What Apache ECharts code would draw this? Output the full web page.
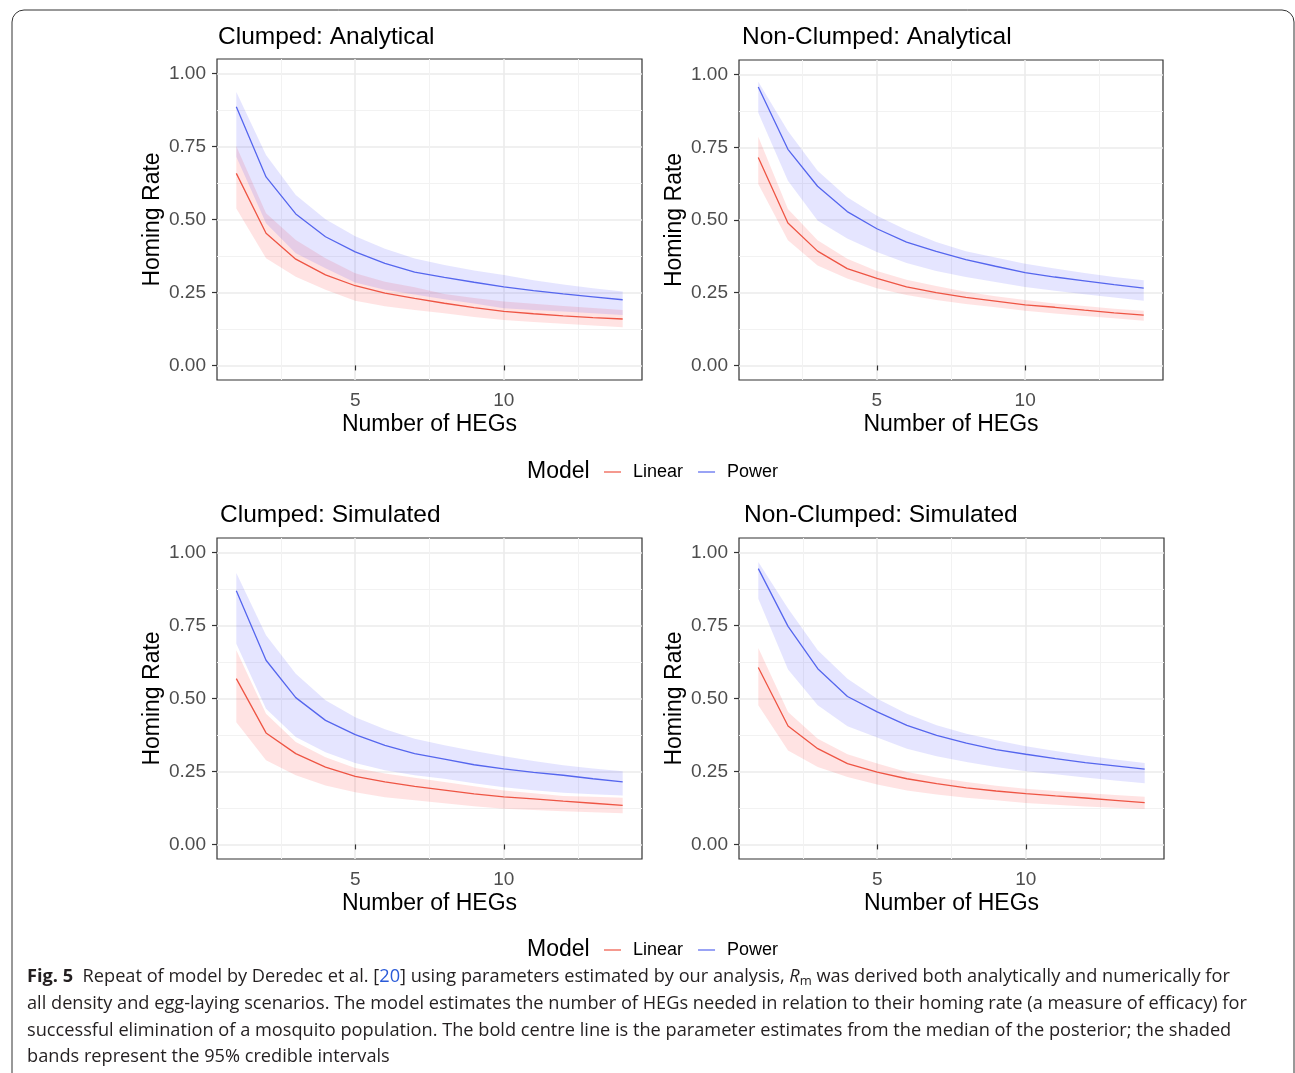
<!DOCTYPE html>
<html>
<head>
<meta charset="utf-8">
<script src="https://cdn.jsdelivr.net/npm/echarts@6/dist/echarts.min.js"></script>
<style>
html, body { margin: 0; padding: 0; background: #fff; }
#main { width: 1295px; height: 1073px; }
</style>
</head>
<body>
<div id="main"></div>
<script>
// number of HEGs (x axis)
var hegs = [1, 2, 3, 4, 5, 6, 7, 8, 9, 10, 11, 12, 13, 14];
var xTicks = [5, 10];
var xMinor = [2.5, 7.5, 12.5];
var yTicks = [0, 0.25, 0.5, 0.75, 1];
var yMinor = [0.125, 0.375, 0.625, 0.875];

// Clumped: Analytical
var caLinMed = [0.658, 0.453, 0.364, 0.310, 0.273, 0.248, 0.230, 0.213, 0.198, 0.185, 0.177, 0.170, 0.164, 0.159];
var caLinHi  = [0.751, 0.521, 0.430, 0.367, 0.316, 0.287, 0.268, 0.245, 0.231, 0.219, 0.211, 0.204, 0.197, 0.190];
var caLinLo  = [0.538, 0.367, 0.304, 0.259, 0.222, 0.203, 0.190, 0.179, 0.166, 0.156, 0.149, 0.143, 0.137, 0.131];
var caPowMed = [0.886, 0.646, 0.519, 0.441, 0.389, 0.350, 0.320, 0.302, 0.285, 0.269, 0.256, 0.245, 0.235, 0.225];
var caPowHi  = [0.937, 0.721, 0.584, 0.501, 0.443, 0.400, 0.366, 0.344, 0.325, 0.310, 0.292, 0.277, 0.264, 0.253];
var caPowLo  = [0.715, 0.487, 0.384, 0.333, 0.284, 0.259, 0.243, 0.227, 0.212, 0.196, 0.190, 0.185, 0.179, 0.173];

// Non-Clumped: Analytical
var naLinMed = [0.715, 0.490, 0.393, 0.333, 0.299, 0.270, 0.250, 0.234, 0.221, 0.208, 0.200, 0.190, 0.181, 0.173];
var naLinHi  = [0.786, 0.538, 0.430, 0.367, 0.325, 0.295, 0.273, 0.253, 0.238, 0.225, 0.213, 0.204, 0.195, 0.188];
var naLinLo  = [0.624, 0.430, 0.344, 0.299, 0.265, 0.242, 0.225, 0.211, 0.200, 0.188, 0.179, 0.170, 0.162, 0.154];
var naPowMed = [0.957, 0.743, 0.616, 0.529, 0.470, 0.424, 0.392, 0.364, 0.341, 0.319, 0.304, 0.291, 0.278, 0.266];
var naPowHi  = [0.975, 0.806, 0.669, 0.578, 0.515, 0.466, 0.424, 0.393, 0.371, 0.350, 0.333, 0.318, 0.304, 0.293];
var naPowLo  = [0.869, 0.635, 0.498, 0.436, 0.390, 0.352, 0.325, 0.304, 0.287, 0.270, 0.257, 0.245, 0.234, 0.222];

// Clumped: Simulated
var csLinMed = [0.568, 0.382, 0.311, 0.265, 0.233, 0.214, 0.199, 0.186, 0.173, 0.163, 0.156, 0.148, 0.141, 0.134];
var csLinHi  = [0.665, 0.448, 0.351, 0.299, 0.262, 0.243, 0.228, 0.214, 0.199, 0.185, 0.175, 0.166, 0.163, 0.160];
var csLinLo  = [0.419, 0.288, 0.237, 0.202, 0.179, 0.162, 0.151, 0.141, 0.131, 0.122, 0.118, 0.114, 0.110, 0.107];
var csPowMed = [0.869, 0.631, 0.503, 0.425, 0.376, 0.339, 0.311, 0.292, 0.273, 0.259, 0.247, 0.237, 0.225, 0.214];
var csPowHi  = [0.930, 0.717, 0.585, 0.494, 0.436, 0.395, 0.362, 0.340, 0.320, 0.302, 0.286, 0.271, 0.260, 0.251];
var csPowLo  = [0.688, 0.465, 0.368, 0.316, 0.279, 0.254, 0.237, 0.225, 0.210, 0.196, 0.186, 0.177, 0.172, 0.168];

// Non-Clumped: Simulated
var nsLinMed = [0.606, 0.406, 0.328, 0.277, 0.248, 0.225, 0.208, 0.194, 0.183, 0.174, 0.166, 0.159, 0.151, 0.143];
var nsLinHi  = [0.673, 0.454, 0.362, 0.309, 0.277, 0.248, 0.229, 0.214, 0.201, 0.191, 0.183, 0.176, 0.169, 0.163];
var nsLinLo  = [0.477, 0.322, 0.265, 0.231, 0.205, 0.185, 0.171, 0.160, 0.151, 0.142, 0.136, 0.130, 0.126, 0.121];
var nsPowMed = [0.945, 0.747, 0.602, 0.507, 0.454, 0.408, 0.374, 0.347, 0.325, 0.309, 0.294, 0.280, 0.269, 0.258];
var nsPowHi  = [0.968, 0.808, 0.665, 0.568, 0.499, 0.448, 0.408, 0.379, 0.357, 0.336, 0.320, 0.305, 0.291, 0.279];
var nsPowLo  = [0.842, 0.599, 0.477, 0.405, 0.366, 0.328, 0.302, 0.282, 0.265, 0.251, 0.240, 0.229, 0.219, 0.210];

var panels = [
    { title: 'Clumped: Analytical',     left: 217, top: 59,  width: 425, height: 321, tx: 213, ty: 20,
      lin: [caLinLo, caLinMed, caLinHi], pow: [caPowLo, caPowMed, caPowHi] },
    { title: 'Non-Clumped: Analytical', left: 739, top: 60,  width: 424, height: 320, tx: 737, ty: 20,
      lin: [naLinLo, naLinMed, naLinHi], pow: [naPowLo, naPowMed, naPowHi] },
    { title: 'Clumped: Simulated',      left: 217, top: 538, width: 425, height: 321, tx: 215, ty: 498,
      lin: [csLinLo, csLinMed, csLinHi], pow: [csPowLo, csPowMed, csPowHi] },
    { title: 'Non-Clumped: Simulated',  left: 739, top: 538, width: 425, height: 321, tx: 739, ty: 498,
      lin: [nsLinLo, nsLinMed, nsLinHi], pow: [nsPowLo, nsPowMed, nsPowHi] }
];

var models = [
    { name: 'Linear', line: '#ee5544', band: 'rgba(255,40,40,0.13)' },
    { name: 'Power',  line: '#5566ee', band: 'rgba(40,40,255,0.12)' }
];

function pairs(xs, ys) {
    return xs.map(function (x, i) { return [x, ys[i]]; });
}

// ribbon between lo and hi, drawn once as one polygon through the axis scales
function ribbon(i, lo, hi, color) {
    return {
        type: 'custom', xAxisIndex: i, yAxisIndex: i, silent: true, z: 1, clip: true,
        data: hegs.map(function (x, j) { return [x, lo[j], hi[j]]; }),
        encode: { x: 0, y: [1, 2] },
        renderItem: function (params, api) {
            if (params.dataIndex !== 0) return null;
            var pts = [], j;
            for (j = 0; j < hegs.length; j++) pts.push(api.coord([hegs[j], hi[j]]));
            for (j = hegs.length - 1; j >= 0; j--) pts.push(api.coord([hegs[j], lo[j]]));
            return { type: 'polygon', shape: { points: pts }, style: { fill: color } };
        }
    };
}

var FONT = 'Liberation Sans';
var grids = [], xAxes = [], yAxes = [], titles = [], bands = [], lines = [];

panels.forEach(function (p, i) {
    grids.push({ left: p.left, top: p.top, width: p.width, height: p.height,
        show: true, borderColor: '#333', borderWidth: 1.2, backgroundColor: 'transparent' });
    titles.push({ text: p.title, left: p.tx, top: p.ty,
        textStyle: { fontFamily: FONT, fontSize: 24.5, fontWeight: 'normal', color: '#000' } });

    // major x axis
    xAxes.push({
        type: 'value', gridIndex: i, min: 0.35, max: 14.65,
        name: 'Number of HEGs', nameLocation: 'middle', nameGap: 33,
        nameTextStyle: { fontFamily: FONT, fontSize: 23, color: '#000' },
        axisLine: { show: false },
        axisTick: { show: true, length: 5, lineStyle: { color: '#333', width: 1.2 }, customValues: xTicks },
        axisLabel: { fontFamily: FONT, fontSize: 19, color: '#4d4d4d', margin: 11, customValues: xTicks },
        splitLine: { show: true, lineStyle: { color: '#ebebeb', width: 1.6 } }
    });
    // major y axis
    yAxes.push({
        type: 'value', gridIndex: i, min: -0.05, max: 1.05,
        name: 'Homing Rate', nameLocation: 'middle', nameGap: 53,
        nameTextStyle: { fontFamily: FONT, fontSize: 23, color: '#000' },
        axisLine: { show: false },
        axisTick: { show: true, length: 5, lineStyle: { color: '#333', width: 1.2 }, customValues: yTicks },
        axisLabel: { fontFamily: FONT, fontSize: 19, color: '#4d4d4d', margin: 11, customValues: yTicks,
            formatter: function (v) { return v.toFixed(2); } },
        splitLine: { show: true, lineStyle: { color: '#ebebeb', width: 1.6 } }
    });

    models.forEach(function (m, k) {
        var b = k === 0 ? p.lin : p.pow;
        bands.push(ribbon(i, b[0], b[2], m.band));
        lines.push({
            name: m.name, type: 'line', xAxisIndex: i, yAxisIndex: i,
            data: pairs(hegs, b[1]), symbol: 'none', color: m.line,
            lineStyle: { color: m.line, width: 1.3 }, z: 3
        });
    });
});

// minor grid lines, drawn by extra axes on the same grids
panels.forEach(function (p, i) {
    xAxes.push({
        type: 'value', gridIndex: i, min: 0.35, max: 14.65, position: 'bottom',
        axisLine: { show: false }, axisTick: { show: false, customValues: xMinor },
        axisLabel: { show: false, customValues: xMinor },
        splitLine: { show: true, lineStyle: { color: '#f2f2f2', width: 1 } }
    });
    yAxes.push({
        type: 'value', gridIndex: i, min: -0.05, max: 1.05, position: 'left',
        axisLine: { show: false }, axisTick: { show: false, customValues: yMinor },
        axisLabel: { show: false, customValues: yMinor },
        splitLine: { show: true, lineStyle: { color: '#f2f2f2', width: 1 } }
    });
});

function legendAt(top) {
    return {
        data: ['Linear', 'Power'], left: 599, top: top, icon: 'rect',
        itemWidth: 17, itemHeight: 2, itemGap: 15, selectedMode: false,
        itemStyle: { opacity: 0.6 },
        textStyle: { fontFamily: FONT, fontSize: 18, color: '#000', padding: [0, 0, 0, 7] }
    };
}

var capFont = 'Open Sans';
var capSize = 18.2;
var capRich = {
    b: { fontFamily: capFont, fontSize: capSize, fontWeight: 'bold', fill: '#231f20' },
    n: { fontFamily: capFont, fontSize: capSize, fill: '#231f20' },
    a: { fontFamily: capFont, fontSize: capSize, fill: '#2b5bd8' },
    i: { fontFamily: capFont, fontSize: capSize, fontStyle: 'italic', fill: '#231f20' },
    s: { fontFamily: capFont, fontSize: 13, fill: '#231f20', verticalAlign: 'bottom', lineHeight: 10 }
};
var capLines = [
    '{b|Fig. 5}{n|  Repeat of model by Deredec et al. [}{a|20}{n|] using parameters estimated by our analysis, }{i|R}{s|m}{n| was derived both analytically and numerically for}',
    '{n|all density and egg-laying scenarios. The model estimates the number of HEGs needed in relation to their homing rate (a measure of efficacy) for}',
    '{n|successful elimination of a mosquito population. The bold centre line is the parameter estimates from the median of the posterior; the shaded}',
    '{n|bands represent the 95% credible intervals}'
];
var capY = [977, 1004, 1031, 1057];

var graphics = [
    { type: 'rect', shape: { x: 12, y: 10, width: 1282, height: 1120, r: 12 }, silent: true,
      style: { fill: 'none', stroke: '#333', lineWidth: 1 } },
    { type: 'text', x: 527, y: 472, silent: true,
      style: { text: 'Model', font: '23px "' + FONT + '"', fill: '#000', verticalAlign: 'middle' } },
    { type: 'text', x: 527, y: 950, silent: true,
      style: { text: 'Model', font: '23px "' + FONT + '"', fill: '#000', verticalAlign: 'middle' } }
];
capLines.forEach(function (t, i) {
    graphics.push({ type: 'text', x: 27, y: capY[i], silent: true,
        style: { text: t, rich: capRich, verticalAlign: 'middle', lineHeight: 22 } });
});

var myChart = echarts.init(document.getElementById('main'));
myChart.setOption({
    backgroundColor: '#fff',
    animation: false,
    title: titles,
    legend: [legendAt(458), legendAt(936)],
    grid: grids,
    xAxis: xAxes,
    yAxis: yAxes,
    graphic: graphics,
    series: bands.concat(lines)
});
</script>
</body>
</html>
